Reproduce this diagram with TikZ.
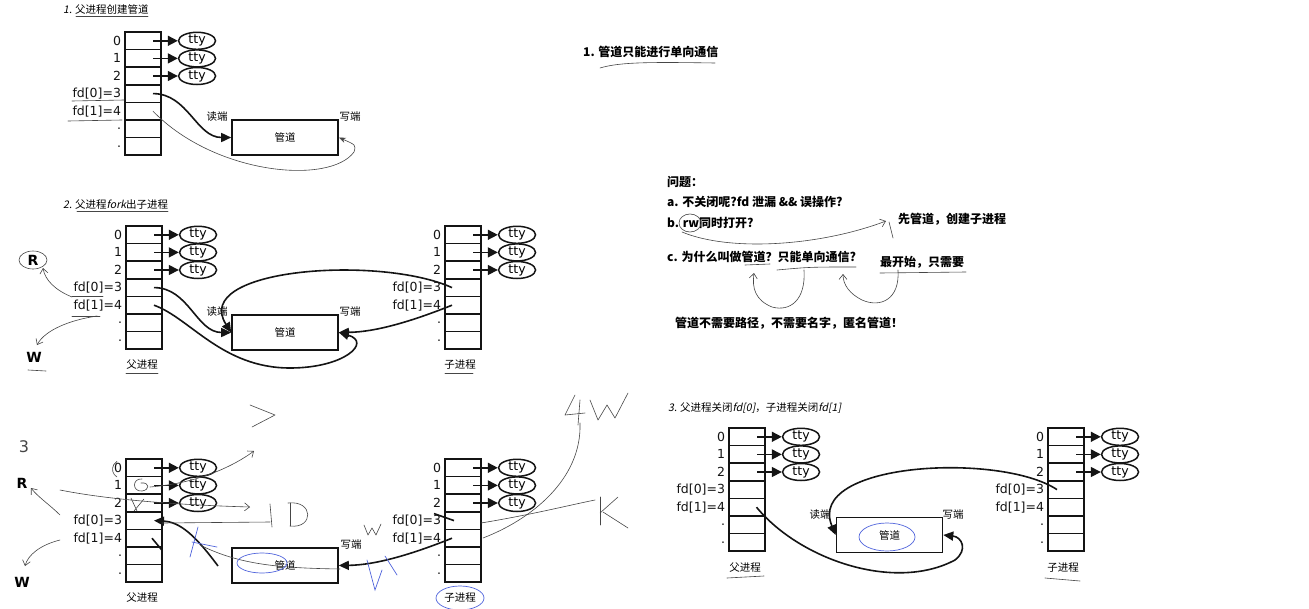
\documentclass[tikz,border=0pt]{standalone}
\usepackage{fontspec}
\usepackage{tikz}
\usetikzlibrary{arrows.meta, positioning, shapes.geometric}
\setmainfont{DejaVu Sans}
\newfontfamily\cjk{Noto Sans CJK SC}
\newfontfamily\cjkit[FakeSlant=0.2]{Noto Sans CJK SC}
\definecolor{inkdark}{RGB}{20,20,20}
\definecolor{pengray}{RGB}{70,70,70}
\definecolor{penblue}{RGB}{80,100,220}
\tikzset{
  fdcell/.style={rectangle, draw=inkdark, line width=1.6pt,
    minimum width=36pt, minimum height=17.6pt, inner sep=0pt},
  fdlabel/.style={anchor=east, inner sep=0pt, text=inkdark,
    font=\fontsize{12.5}{14}\selectfont},
  tty/.style={ellipse, draw=inkdark, line width=1.5pt, minimum width=37pt,
    minimum height=17pt, inner sep=0pt, font=\fontsize{12.5}{13}\selectfont},
  ttyarrow/.style={-{Triangle[length=10pt,width=10pt]}, line width=1.5pt, color=inkdark},
  pipe/.style={rectangle, draw=inkdark, line width=1.6pt, minimum width=106pt,
    minimum height=35pt, font=\cjk\fontsize{10.5}{12}\selectfont},
  pipearrow/.style={-{Triangle[length=10pt,width=9pt]}, line width=1.6pt, color=inkdark},
  endtag/.style={inner sep=0pt, font=\cjk\fontsize{10.5}{12}\selectfont},
  proctag/.style={inner sep=0pt, font=\cjk\fontsize{10.5}{12}\selectfont},
  steptitle/.style={anchor=west, inner sep=0pt, font=\cjk\fontsize{10.5}{12}\selectfont},
  note/.style={anchor=west, inner sep=0pt, font=\cjk\bfseries\fontsize{12}{14}\selectfont},
  hand/.style={pengray, line width=0.6pt, line cap=round, line join=round},
  bluehand/.style={penblue, line width=0.7pt, line cap=round},
  barb/.style={-{Straight Barb[length=5pt,width=8pt]}},
  handtext/.style={inner sep=0pt, font=\bfseries\fontsize{14}{16}\selectfont},
  handnum/.style={inner sep=0pt, text=pengray, font=\fontsize{16}{18}\selectfont}
}
% one process: seven fd rows, labels and the three tty entries
\newcommand{\fdtable}[3]{%
  \foreach \i/\lab in {0/0,1/1,2/2,3/{fd[0]=3},4/{fd[1]=4},5/.,6/.}{%
    \node[fdcell] (#1\i) at (#2+18,#3+8.8+17.6*\i) {};
    \node[fdlabel] (#1l\i) at ([xshift=-3pt]#1\i.west) {\lab};
  }%
  \foreach \i in {0,1,2}{%
    \node[tty, right=16pt of #1\i.east] (#1t\i) {tty};
    \draw[ttyarrow] ([xshift=10pt]#1\i.center) -- (#1t\i);
  }%
}

\begin{document}
\begin{tikzpicture}[x=1pt, y=-1pt]
  \fill[white] (0,0) rectangle (1309,608);
  \useasboundingbox (0,0) rectangle (1309,608);

  % Step 1: parent creates the pipe
  \node[steptitle] (t1) at (63,10) {{\cjkit 1.} 父进程创建管道};
  \fdtable{aP}{125}{32}
  \node[pipe] (aPipe) at (285,137.5) {管道};
  \node[endtag] (aRd) at (217,117) {读端};
  \node[endtag] (aWr) at (350,117) {写端};
  \draw[pipearrow] ([xshift=10pt]aP3.center) to[out=0, in=180] (aPipe.west);
  \draw[hand, -{Stealth[length=7pt]}] ([xshift=10pt]aP4.center)
    .. controls (215,175) and (330,185) .. (354,152) .. controls (356,145) .. (aPipe.east);
  \draw[hand] (76,16) -- (148,16);
  \draw[hand] (72,101) -- (124,100);
  \draw[hand] (68,121) -- (122,120);

  % Step 2: parent forks the child
  \node[steptitle] (t2) at (63,205) {{\cjkit 2.} 父进程{\cjkit fork}出子进程};
  \fdtable{bP}{126}{226}
  \fdtable{bC}{445}{226}
  \node[pipe] (bPipe) at (285,332.5) {管道};
  \node[endtag] (bRd) at (217,312) {读端};
  \node[endtag] (bWr) at (350,312) {写端};
  \node[proctag] (bPtag) at (142,365) {父进程};
  \node[proctag] (bCtag) at (460,365) {子进程};
  \draw[pipearrow] ([xshift=10pt]bP3.center) to[out=0, in=180] (bPipe.west);
  \draw[pipearrow] ([xshift=10pt]bP4.center)
    .. controls (190,318) and (222,368) .. (290,368) .. controls (345,368) and (372,342) .. (bPipe.east);
  \draw[pipearrow] ([xshift=-11pt]bC3.center) .. controls (380,255) and (190,268) .. (bPipe.west);
  \draw[pipearrow] ([xshift=-11pt]bC4.center) .. controls (410,322) and (375,332) .. (bPipe.east);
  \draw[hand] (77,211) -- (168,211);
  \draw[hand] (126,373) -- (158,373);
  \draw[hand] (445,373) -- (473,373);
  \draw[hand] (72,296) -- (103,296);
  \draw[hand] (72,316) -- (100,316);
  \node[handtext] (bR) at (33,260) {R};
  \draw[hand] (33,260) ellipse (14 and 9);
  \node[handtext] (bW) at (34,357) {W};
  \draw[hand] (28,370) -- (46,371);
  \draw[hand, barb] (72,297) .. controls (55,290) and (45,280) .. (43,268);
  \draw[hand, barb] (97,316) .. controls (70,320) and (45,330) .. (37,345);

  % Step 2 again, written over
  \fdtable{cP}{126}{459}
  \fdtable{cC}{445}{459}
  \node[pipe] (cPipe) at (285,565.5) {管道};
  \node[endtag] (cWr) at (351,545) {写端};
  \node[proctag] (cPtag) at (142,598) {父进程};
  \node[proctag] (cCtag) at (460,598) {子进程};
  \coordinate (cRdEnd) at (218,566);
  \draw[pipearrow] (cRdEnd) .. controls (195,535) and (180,522) .. ([xshift=10pt]cP3.center);
  \draw[pipearrow] ([xshift=-11pt]cC4.center) .. controls (410,555) and (375,565) .. (cPipe.east);
  \draw[line width=1.6pt, inkdark] ([xshift=8pt]cP4.center) -- ++(10,12);
  \draw[line width=1.6pt, inkdark] ([xshift=-9pt]cC3.center) -- ++(-20,-7);
  \node[handnum] (c3) at (24,447) {3};
  \node[handtext] (cR) at (22,483) {R};
  \node[handtext] (cW) at (22,582) {W};
  \draw[hand, barb] (60,515) .. controls (50,505) and (38,497) .. (31,488);
  \draw[hand, barb] (60,540) .. controls (40,545) and (28,555) .. (25,566);
  \draw[hand, barb] (60,490) .. controls (110,500) and (180,505) .. (250,507);
  \draw[hand, barb] (150,487) .. controls (200,483) and (235,465) .. (254,451);
  \draw[hand] (250,405) -- (275,415) -- (252,427);
  \draw[hand] (162,523) -- (270,522);
  \draw[hand] (270,504) -- (272,527);
  \draw[hand] (290,503) -- (290,526);
  \draw[hand] (288,503) .. controls (314,500) and (314,529) .. (290,526);
  \draw[hand] (200,545) .. controls (240,565) and (280,568) .. (340,569);
  \draw[hand] (575,395) -- (565,415) -- (585,413);
  \draw[hand] (580,400) -- (578,425);
  \draw[hand] (590,400) -- (598,420) -- (607,405) -- (615,418) -- (628,393);
  \draw[hand] (580,423) .. controls (582,480) and (530,520) .. (483,538);
  \draw[hand] (481,523) .. controls (530,515) and (570,505) .. (595,500);
  \draw[hand] (600,497) -- (600,525);
  \draw[hand] (600,513) -- (618,497);
  \draw[hand] (603,512) -- (628,528);
  \draw[hand] (364,525) -- (368,535) -- (372,528) -- (376,535) -- (381,524);
  \draw[hand] (117,477) arc (120:240:9);
  \draw[hand] (142,479) .. controls (132,478) and (132,492) .. (142,491) .. controls (150,490) and (150,482) .. (141,483);
  \draw[hand] (131,498) -- (137,511) (144,499) -- (134,511);
  \draw[bluehand] (262,563) ellipse (25 and 10);
  \draw[bluehand] (190,557) -- (198,527);
  \draw[bluehand] (192,542) -- (217,547);
  \draw[bluehand] (367,560) -- (375,590) -- (382,570);
  \draw[bluehand] (385,556) -- (397,575);
  \draw[bluehand] (460,598) ellipse (24 and 12);

  % Step 3: each side closes one end
  \node[steptitle] (t4) at (668,408) {{\cjkit 3.} 父进程关闭{\cjkit fd[0]}，子进程关闭{\cjkit fd[1]}};
  \fdtable{dP}{729}{428}
  \fdtable{dC}{1048}{428}
  \node[pipe] (dPipe) at (889.5,535) {管道};
  \node[endtag] (dRd) at (820,515) {读端};
  \node[endtag] (dWr) at (953,515) {写端};
  \node[proctag] (dPtag) at (745,568) {父进程};
  \node[proctag] (dCtag) at (1063,568) {子进程};
  \draw[pipearrow] ([xshift=-9pt]dC3.center) .. controls (1000,452) and (805,462) .. (dPipe.west);
  \draw[pipearrow] ([xshift=9.5pt]dP4.center)
    .. controls (800,560) and (895,592) .. (955,560) .. controls (968,550) and (962,537) .. (dPipe.east);
  \draw[bluehand] (887,537) ellipse (28 and 14);
  \draw[hand] (727,578) -- (764,576);
  \draw[hand] (1045,578) -- (1080,581);

  % Notes on the right
  \node[note] (n1) at (583,52) {1. 管道只能进行单向通信};
  \node[note] (q0) at (667,182) {问题：};
  \node[note] (qa) at (667,202) {a. 不关闭呢?fd 泄漏 \&\& 误操作?};
  \node[note] (qb) at (667,223) {b. rw同时打开?};
  \node[note] (qc) at (667,257) {c. 为什么叫做管道？只能单向通信?};
  \node[note] (nb) at (898,219) {先管道，创建子进程};
  \node[note] (nc) at (880,262) {最开始，只需要};
  \node[note] (nd) at (675,323) {管道不需要路径，不需要名字，匿名管道！};
  \draw[hand] (600,68) .. controls (620,62) and (650,62) .. (715,63);
  \draw[hand] (690,223) ellipse (11 and 9);
  \draw[hand, barb] (682,232) .. controls (730,252) and (820,246) .. (886,221);
  \draw[hand] (889,222) -- (893,238);
  \draw[hand] (745,265) -- (770,264);
  \draw[hand] (777,270) .. controls (810,267) .. (856,267);
  \draw[hand, barb] (804,270) .. controls (806,300) and (790,312) .. (772,307)
    .. controls (755,300) and (752,288) .. (754,273);
  \draw[hand, barb] (898,270) .. controls (900,300) and (880,308) .. (862,300)
    .. controls (850,294) and (843,285) .. (843,274);
  \draw[hand] (880,273) -- (966,272);
\end{tikzpicture}
\end{document}
